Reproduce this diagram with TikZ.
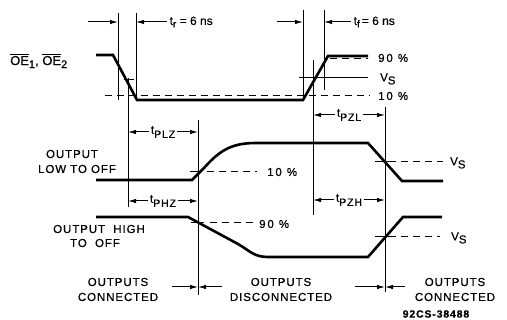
\documentclass[tikz,border=0pt]{standalone}
\usepackage{fontspec}
\setmainfont{Liberation Sans}[FakeBold=0.6]
\newfontfamily\capsfont{Liberation Sans}[LetterSpace=8,FakeBold=0.6]
\newfontfamily\widefont{Liberation Sans}[LetterSpace=16,FakeBold=0.6]
\usetikzlibrary{arrows.meta}
\begin{document}
\begin{tikzpicture}[x=1pt,y=-1pt,
  wave/.style={line width=2.6pt, line join=miter},
  thin/.style={line width=1pt},
  dashln/.style={line width=1pt, dash pattern=on 7pt off 5pt},
  arr/.style={line width=1pt, -{Latex[length=8pt,width=4.5pt]}},
  lbl/.style={font=\capsfont\fontsize{11.5}{15}\selectfont, inner sep=0pt, align=center},
  pct/.style={font=\widefont\fontsize{11.5}{15}\selectfont, inner sep=0pt},
  sm/.style={font=\fontsize{10}{12}\selectfont, inner sep=1pt},
  tlbl/.style={font=\fontsize{12}{13}\selectfont, inner sep=1.5pt},
  sub/.style={font=\capsfont\fontsize{10.5}{12}\selectfont},
]
\useasboundingbox (0,0) rectangle (507,320);

% ---- OE waveform ----
\draw[wave] (96,55) -- (113,55) -- (137,100) -- (303,100) -- (328,56) -- (368,56);
\draw[dashln] (105,96) -- (370,96);
\draw[dashln] (330,59) -- (368,59);
\draw[thin] (299,78) -- (368,78);
\draw[thin] (124,80) -- (134,80);
\node[sm, anchor=west, font=\fontsize{13}{15}\selectfont] (oe) at (9,61)
  {$\overline{\hbox{OE}}$\raisebox{-3pt}{\fontsize{11}{12}\selectfont 1}, $\overline{\hbox{OE}}$\raisebox{-3pt}{\fontsize{11}{12}\selectfont 2}};

% vertical reference lines
\draw[thin] (118,13) -- (118,100);
\draw[thin] (136,13) -- (136,100);
\draw[thin] (303,10) -- (303,100);
\draw[thin] (324,10) -- (324,90);
\draw[thin] (128,78) -- (128,207);
\draw[thin] (313,60) -- (313,215);
\draw[thin] (198,120) -- (198,295);
\draw[thin] (385,107) -- (385,292);

% rise / fall time arrows
\draw[arr] (88,22) -- (118,22);
\draw[arr] (167,22) -- (136,22);
\node[tlbl, anchor=west] (tr) at (168,22) {t\raisebox{-2.5pt}{\fontsize{10}{11}\selectfont r} = 6 ns};
\draw[arr] (277,22) -- (303,22);
\draw[arr] (351,22) -- (324,22);
\node[tlbl, anchor=west] (tf) at (352,22) {t\raisebox{-2.5pt}{\fontsize{10}{11}\selectfont f}\,= 6 ns};

\node[pct, anchor=west] (p90a) at (378,58) {90 \%};
\node[lbl, anchor=west] (vsa) at (380,79) {V\raisebox{-3pt}{S}};
\node[pct, anchor=west] (p10a) at (378,96) {10 \%};

% ---- Output low to off ----
\draw[wave] (96,180) -- (192,180) -- (204,168) .. controls (220,150) and (232,143) .. (256,143)
  -- (368,143) -- (402,181) -- (443,181);
\draw[thin] (190,172) -- (201,172);
\draw[dashln] (207,172) -- (257,172);
\node[pct, anchor=west] (p10b) at (267,172) {10 \%};
\draw[thin] (375,162) -- (396,162);
\draw[dashln] (401,162) -- (443,162);
\node[lbl, anchor=west] (vsb) at (450,163) {V\raisebox{-3pt}{S}};
\node[lbl] (lo1) at (72,154) {OUTPUT};
\node[lbl] (lo2) at (77,169) {LOW TO OFF};

% ---- Output high to off ----
\draw[wave] (96,217) -- (188,217) -- (238,244) .. controls (250,251) and (254,257) .. (268,257)
  -- (368,257) -- (403,217) -- (442,217);
\draw[thin] (191,223) -- (204,223);
\draw[dashln] (210,223) -- (255,223);
\node[pct, anchor=west] (p90b) at (259,224) {90 \%};
\draw[thin] (375,237) -- (396,237);
\draw[dashln] (401,237) -- (440,237);
\node[lbl, anchor=west] (vsc) at (451,238) {V\raisebox{-3pt}{S}};
\node[lbl] (hi1) at (99,229) {OUTPUT\ \ HIGH};
\node[lbl] (hi2) at (95,243) {TO\ \ OFF};

% ---- timing intervals ----
\node[tlbl] (plz) at (163,132) {t\raisebox{-4pt}{\capsfont\fontsize{10.5}{12}\selectfont PLZ}};
\draw[arr] (plz.west) -- (128,132);
\draw[arr] (plz.east) -- (198,132);
\node[tlbl] (phz) at (163,201) {t\raisebox{-4pt}{\capsfont\fontsize{10.5}{12}\selectfont PHZ}};
\draw[arr] (phz.west) -- (128,201);
\draw[arr] (phz.east) -- (198,201);
\node[tlbl] (pzl) at (349,115) {t\raisebox{-4pt}{\capsfont\fontsize{10.5}{12}\selectfont PZL}};
\draw[arr] (pzl.west) -- (313,115);
\draw[arr] (pzl.east) -- (385,115);
\node[tlbl] (pzh) at (349,200) {t\raisebox{-4pt}{\capsfont\fontsize{10.5}{12}\selectfont PZH}};
\draw[arr] (pzh.west) -- (313,200);
\draw[arr] (pzh.east) -- (385,200);

% ---- bottom markers ----
\draw[arr] (172,287) -- (198,287);
\draw[arr] (222,287) -- (198,287);
\draw[arr] (355,287) -- (385,287);
\draw[arr] (405,287) -- (385,287);

\node[lbl] (c1) at (118,289.5) {OUTPUTS\\CONNECTED};
\node[lbl] (c2) at (281,289.5) {OUTPUTS\\DISCONNECTED};
\node[lbl] (c3) at (455,289.5) {OUTPUTS\\CONNECTED};
\node[lbl, font=\capsfont\bfseries\fontsize{10.5}{12}\selectfont] (fig) at (436,314) {92CS-38488};
\end{tikzpicture}
\end{document}
